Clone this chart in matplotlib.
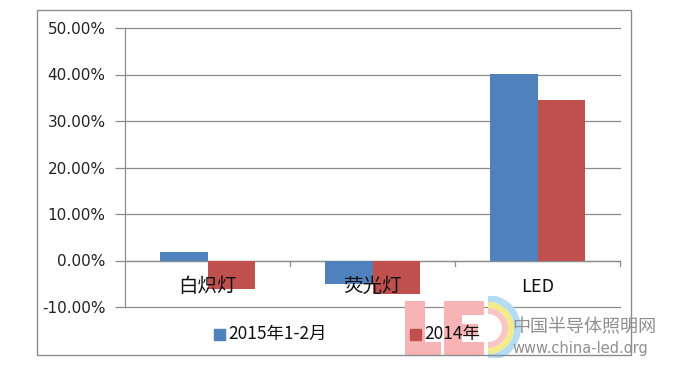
import matplotlib
matplotlib.use("Agg")
import matplotlib.pyplot as plt
import matplotlib.patches as mpatches
from matplotlib.ticker import FuncFormatter
import numpy as np

categories = ["白炽灯", "荧光灯", "LED"]
series_names = ["2015年1-2月", "2014年"]
series_2015 = [1.9, -5.0, 40.1]
series_2014 = [-6.1, -7.1, 34.5]
yticks = [-10, 0, 10, 20, 30, 40, 50]
colors = ["#4f81bd", "#c0504d"]

CJK = ["Noto Sans CJK SC", "DejaVu Sans"]
W, H = 690, 373
fig = plt.figure(figsize=(W / 100, H / 100), dpi=100)

def fx(px):
    return px / W

def fy(py):
    return 1 - py / H

# outer border
fig.patches.append(mpatches.Rectangle((fx(37), fy(355)), fx(631) - fx(37), fy(10) - fy(355),
                                      transform=fig.transFigure, fill=False,
                                      edgecolor="#8c8c8c", linewidth=1.0, zorder=1))

ax = fig.add_axes([fx(125), fy(307), fx(620) - fx(125), fy(28) - fy(307)])
ax.set_facecolor("none")
x = np.arange(len(categories))
bw = 0.285
ax.bar(x - bw / 2, series_2015, width=bw, color=colors[0], zorder=3)
ax.bar(x + bw / 2, series_2014, width=bw, color=colors[1], zorder=3)

ax.set_xlim(-0.5, len(categories) - 0.5)
ax.set_ylim(yticks[0], yticks[-1])
ax.set_yticks(yticks)
ax.yaxis.set_major_formatter(FuncFormatter(lambda v, p: f"{v:.2f}%"))
ax.tick_params(axis="y", length=7, width=0.9, color="#8c8c8c", pad=7,
               labelsize=11, labelcolor="#222222")
for s in ["top", "right", "bottom"]:
    ax.spines[s].set_visible(False)
ax.spines["left"].set_color("#8c8c8c")
ax.spines["left"].set_linewidth(0.9)
ax.grid(axis="y", color="#8c8c8c", linewidth=0.9, zorder=1)
for gl in ax.get_ygridlines():
    gl.set_clip_on(False)
ax.axhline(0, color="#8c8c8c", linewidth=0.9, zorder=2)

# category boundary ticks on the zero line
ax.set_xticks([])
for b in np.arange(0.5, len(categories), 1.0):
    ax.plot([b, b], [0, -1.1], color="#8c8c8c", linewidth=0.9, zorder=2, clip_on=False)

for i, c in enumerate(categories):
    ax.text(i, -5.6, c, ha="center", va="center", fontsize=14 if c != "LED" else 13,
            family=CJK, color="#111111", zorder=5)

# watermark logo
lax = fig.add_axes([fx(400), fy(358), fx(525) - fx(400), fy(296) - fy(358)])
lax.set_xlim(0, 125)
lax.set_ylim(0, 62)
lax.axis("off")
pink = "#f8b4b4"
for (x0, y0, w, h) in [(5, 2, 20, 55), (25, 2, 16, 14), (44, 2, 18, 55),
                       (62, 43, 22, 14), (62, 22, 16, 12), (62, 2, 22, 14)]:
    lax.add_patch(mpatches.Rectangle((x0, y0), w, h, color=pink, lw=0))
for r, wd, col in [(33, 7, "#b5dcf2"), (26, 6, "#f3ea8a"), (20, 6, "#f8c4c4")]:
    lax.add_patch(mpatches.Wedge((88, 30), r, -90, 90, width=wd, color=col, lw=0))

fig.text(fx(512), fy(327), "中国半导体照明网", ha="left", va="center", fontsize=13,
         family=CJK, color="#8f8f8f", zorder=4)
fig.text(fx(512), fy(349), "www.china-led.org", ha="left", va="center", fontsize=10.5,
         family="DejaVu Sans", color="#8f8f8f", zorder=4)

# legend
leg_sq_x = [214, 410]
leg_y = 334
for sx, name, col in zip(leg_sq_x, series_names, colors):
    fig.patches.append(mpatches.Rectangle((fx(sx), fy(leg_y + 5.5)), fx(11), 11 / H,
                                          transform=fig.transFigure, color=col, zorder=5))
    fig.text(fx(sx + 14), fy(leg_y), name, ha="left", va="center", fontsize=12.5,
             family=CJK, color="#111111", zorder=6)

fig.savefig("out.png", dpi=100)
